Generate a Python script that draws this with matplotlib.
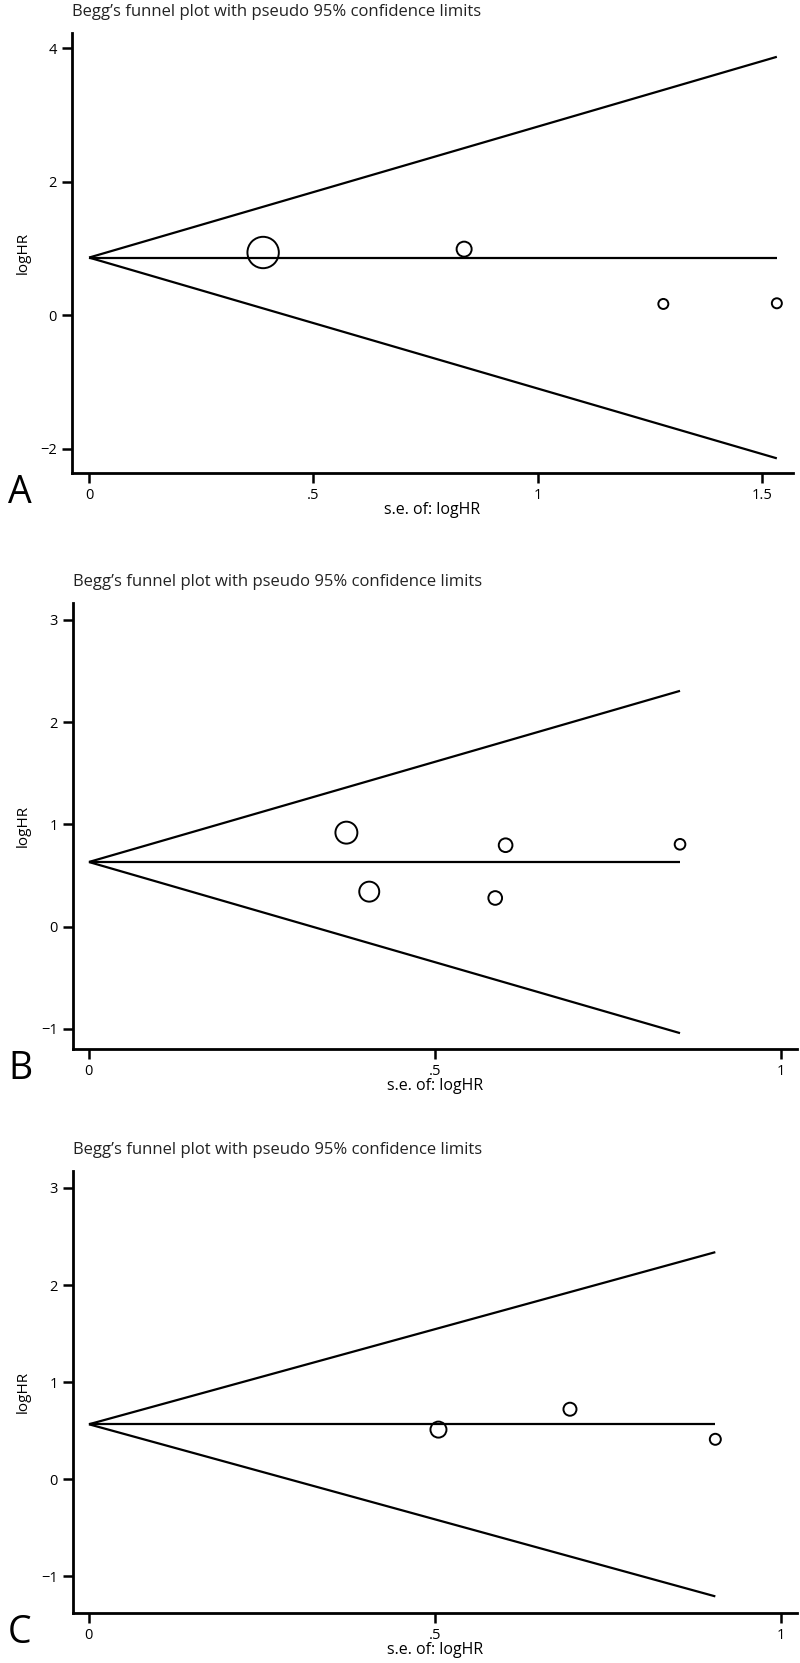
import numpy as np
import matplotlib
matplotlib.use("Agg")
import matplotlib.pyplot as plt
from matplotlib import font_manager

# ── data ──
se_a = [0.388, 0.836, 1.28, 1.533]
loghr_a = [0.94, 0.99, 0.17, 0.18]
size_a = [511, 117, 52, 52]
pooled_a = 0.864

se_b = [0.372, 0.405, 0.602, 0.587, 0.854]
loghr_b = [0.92, 0.343, 0.797, 0.281, 0.806]
size_b = [250, 207, 97, 97, 59]
pooled_b = 0.633

se_c = [0.505, 0.695, 0.905]
loghr_c = [0.51, 0.72, 0.41]
size_c = [133, 88, 63]
pooled_c = 0.565

xticks_a = [0, 0.5, 1, 1.5]
xlabels_a = ["0", ".5", "1", "1.5"]
yticks_a = [-2, 0, 2, 4]
xticks_bc = [0, 0.5, 1]
xlabels_bc = ["0", ".5", "1"]
yticks_bc = [-1, 0, 1, 2, 3]

names = {f.name for f in font_manager.fontManager.ttflist}
narrow = "Liberation Sans Narrow" if "Liberation Sans Narrow" in names else "Open Sans"
TITLE_FONT = ["Open Sans", "DejaVu Sans"]
TICK_FONT = [narrow, "DejaVu Sans"]

W, H = 800, 1663
fig = plt.figure(figsize=(W / 100, H / 100), dpi=100)


def px_axes(left, right, top, bottom):
    return fig.add_axes([left / W, 1 - bottom / H, (right - left) / W, (bottom - top) / H])


def funnel(ax, se, loghr, sizes, pooled, xlim, ylim, xticks, xlabels, yticks):
    semax = max(se)
    ax.plot([0, semax], [pooled, pooled + 1.96 * semax], color="black", lw=1.6, solid_capstyle="butt")
    ax.plot([0, semax], [pooled, pooled - 1.96 * semax], color="black", lw=1.6, solid_capstyle="butt")
    ax.plot([0, semax], [pooled, pooled], color="black", lw=1.6, solid_capstyle="butt")
    ax.scatter(se, loghr, s=sizes, facecolors="none", edgecolors="black", linewidths=1.4, zorder=3)
    ax.set_xlim(*xlim)
    ax.set_ylim(*ylim)
    for s in ["top", "right"]:
        ax.spines[s].set_visible(False)
    for s in ["left", "bottom"]:
        ax.spines[s].set_linewidth(2)
    ax.set_xticks(xticks)
    ax.set_xticklabels(xlabels)
    ax.set_yticks(yticks)
    ax.set_yticklabels([str(t).replace("-", "\u2212") for t in yticks])
    ax.tick_params(direction="out", length=7, width=1.8, pad=4, labelsize=10.5)
    for lab in ax.get_xticklabels() + ax.get_yticklabels():
        lab.set_family(TICK_FONT)


panels = [
    ("A", (72, 793, 33, 473), se_a, loghr_a, size_a, pooled_a, (-0.038, 1.569), (-2.36, 4.225),
     xticks_a, xlabels_a, yticks_a),
    ("B", (73, 797, 603, 1049), se_b, loghr_b, size_b, pooled_b, (-0.023, 1.023), (-1.196, 3.166),
     xticks_bc, xlabels_bc, yticks_bc),
    ("C", (73, 797, 1171, 1613), se_c, loghr_c, size_c, pooled_c, (-0.023, 1.023), (-1.38, 3.175),
     xticks_bc, xlabels_bc, yticks_bc),
]

for letter, box, se, lh, sz, pooled, xlim, ylim, xt, xl, yt in panels:
    left, right, top, bottom = box
    ax = px_axes(left, right, top, bottom)
    funnel(ax, se, lh, sz, pooled, xlim, ylim, xt, xl, yt)
    fig.text(left / W, 1 - (top - 21) / H, "Begg\u2019s funnel plot with pseudo 95% confidence limits",
             family=TITLE_FONT, fontsize=12, ha="left", va="center", color="#222222")
    fig.text(23 / W, 1 - ((top + bottom) / 2) / H, "logHR", family=TICK_FONT, fontsize=11,
             rotation=90, ha="center", va="center")
    fig.text(((left + right) / 2) / W, 1 - (bottom + 37) / H, "s.e. of: logHR", family=TICK_FONT,
             fontsize=11.5, ha="center", va="center")
    fig.text(8 / W, 1 - (bottom + 20) / H, letter, family=TICK_FONT, fontsize=27,
             ha="left", va="center")

fig.savefig("out.png", dpi=100)
